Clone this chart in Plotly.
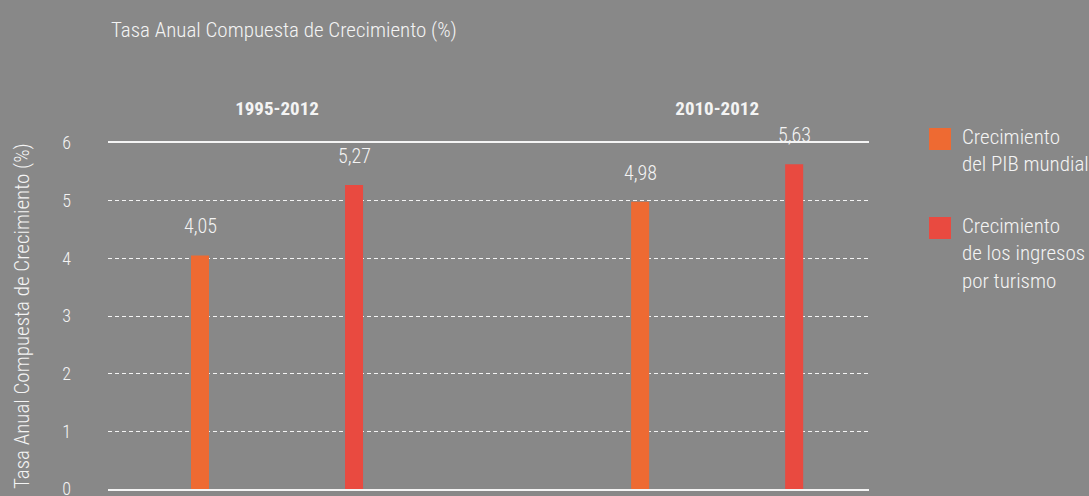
import plotly.graph_objects as go

# Compound annual growth rates (%) by period
periods = ["1995-2012", "2010-2012"]
gdp_growth = [4.05, 4.98]
tourism_growth = [5.27, 5.63]
series_names = ["Crecimiento<br>del PIB mundial", "Crecimiento<br>de los ingresos<br>por turismo"]
y_ticks = [0, 1, 2, 3, 4, 5, 6]

BG = "#888888"
TXT = "#f4f4f4"
ORANGE = "#ee6a32"
RED = "#e94a40"
FONT = "Roboto Condensed, Liberation Sans Narrow, DejaVu Sans Condensed, Roboto, sans-serif"
LIGHT = 300

fig = go.Figure()
fig.add_trace(go.Bar(x=periods, y=gdp_growth, marker=dict(color=ORANGE, line_width=0),
                     name="PIB", showlegend=False, hoverinfo="skip"))
fig.add_trace(go.Bar(x=periods, y=tourism_growth, marker=dict(color=RED, line_width=0),
                     name="Turismo", showlegend=False, hoverinfo="skip"))

# value labels above each bar (bars sit 77px either side of the group centre)
for vals, shift in ((gdp_growth, -77), (tourism_growth, 77)):
    for p, v in zip(periods, vals):
        fig.add_annotation(x=p, y=v, text=f"{v:.2f}".replace(".", ","),
                           showarrow=False, xshift=shift, yshift=29,
                           font=dict(size=20, color=TXT, family=FONT, weight=LIGHT))

# axis title drawn vertically at the left edge
fig.add_annotation(xref="paper", yref="paper", x=-0.113, y=0.5,
                   text="Tasa Anual Compuesta de Crecimiento (%)", textangle=-90,
                   showarrow=False, xanchor="center", yanchor="middle",
                   font=dict(size=21, color=TXT, family=FONT, weight=LIGHT))

# legend: coloured squares with wrapped labels
legend_items = [(ORANGE, series_names[0], 0.0), (RED, series_names[1], 89.0)]
for color, label, dy in legend_items:
    top = 128 + dy
    fig.add_shape(type="rect", xref="paper", yref="paper",
                  x0=(929 - 108) / 761, x1=(951 - 108) / 761,
                  y0=(489 - top) / 346, y1=(489 - top - 22) / 346,
                  fillcolor=color, line_width=0)
    fig.add_annotation(xref="paper", yref="paper", x=(960 - 108) / 761,
                       y=(489 - top + 5) / 346, text=label, showarrow=False,
                       xanchor="left", yanchor="top", align="left",
                       font=dict(size=21, color=TXT, family=FONT, weight=LIGHT))

fig.update_layout(
    width=1089, height=496,
    margin=dict(l=108, r=220, t=143, b=7),
    paper_bgcolor=BG, plot_bgcolor=BG,
    barmode="group", bargap=0.3, bargroupgap=0.883,
    font=dict(family=FONT, color=TXT),
    title=dict(text="Tasa Anual Compuesta de Crecimiento (%)", x=111 / 1089, xanchor="left",
               y=1 - 30 / 496, yanchor="middle", yref="container",
               font=dict(size=21, color=TXT, family=FONT, weight=LIGHT)),
    xaxis=dict(side="top", range=[-0.384, 1.345], showgrid=False, automargin=False,
               showline=True, mirror=True, linecolor=TXT, linewidth=1.5,
               ticks="", ticklabelstandoff=19,
               tickfont=dict(size=19, color=TXT, family=FONT, weight="bold")),
    yaxis=dict(range=[0, 6], tickvals=y_ticks, showgrid=True, gridcolor=TXT, automargin=False,
               griddash="4px,3px", gridwidth=1, zeroline=False, showline=False,
               ticks="", ticklabelstandoff=36, ticklabeloverflow="allow",
               tickfont=dict(size=18, color=TXT, family=FONT, weight=LIGHT)),
)

fig.write_html("out.html")
